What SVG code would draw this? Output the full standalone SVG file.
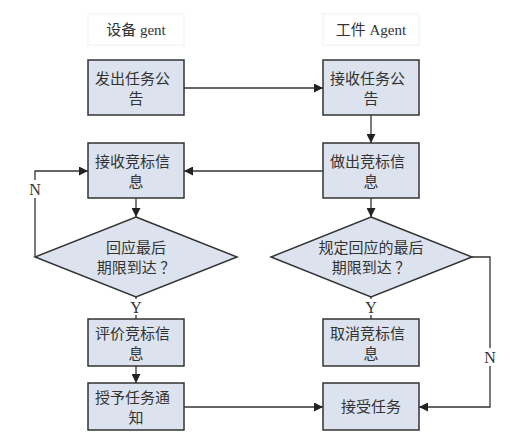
<svg xmlns="http://www.w3.org/2000/svg" width="524" height="437" viewBox="0 0 524 437">
<style>
.box{fill:#dce3ef;stroke:#333;stroke-width:1.5}
.hdr{fill:#fff;stroke:#f0f0f0;stroke-width:1}
.t{font-family:"Noto Sans CJK SC","Noto Sans CJK JP",sans-serif;font-size:15px;fill:#333}
.h{font-family:"Liberation Serif","Noto Sans CJK SC",serif;font-size:15px;fill:#333;text-anchor:middle}
.lbl{font-family:"Liberation Serif",serif;font-size:16px;fill:#333;text-anchor:middle}
.c{fill:none;stroke:#333;stroke-width:1.3}
</style>
<defs>
<marker id="ah" viewBox="0 0 10 10" refX="10" refY="5" markerWidth="9" markerHeight="9" markerUnits="userSpaceOnUse" orient="auto">
<path d="M0,0 L10,5 L0,10 z" fill="#222"/>
</marker>
</defs>
<rect width="524" height="437" fill="#fff"/>
<g id="connectors">
<path class="c" d="M184,88 H323" marker-end="url(#ah)"/>
<path class="c" d="M371,115 V143" marker-end="url(#ah)"/>
<path class="c" d="M323,171 H184" marker-end="url(#ah)"/>
<path class="c" d="M136,198 V217" marker-end="url(#ah)"/>
<path class="c" d="M371,198 V217" marker-end="url(#ah)"/>
<path class="c" d="M35,257 V171 H88" marker-end="url(#ah)"/>
<path class="c" d="M136,297 V319"/>
<path class="c" d="M371,297 V319"/>
<path class="c" d="M472,257 H490 V407 H419" marker-end="url(#ah)"/>
<path class="c" d="M136,366 V383" marker-end="url(#ah)"/>
<path class="c" d="M184,407 H323" marker-end="url(#ah)"/>
<rect x="28" y="180" width="14" height="18" fill="#fff"/>
<text class="lbl" x="35" y="195">N</text>
<rect x="483" y="348" width="14" height="18" fill="#fff"/>
<text class="lbl" x="490" y="363">N</text>
<rect x="129" y="299" width="14" height="16" fill="#fff"/>
<text class="lbl" x="136" y="313">Y</text>
<rect x="364" y="299" width="14" height="16" fill="#fff"/>
<text class="lbl" x="371" y="313">Y</text>
</g>
<g id="hdr1"><rect class="hdr" x="88" y="14" width="96" height="31"/><text class="h" x="136" y="35">设备 gent</text></g>
<g id="hdr2"><rect class="hdr" x="323" y="14" width="96" height="31"/><text class="h" x="371" y="35">工件 Agent</text></g>
<g id="n1"><rect class="box" x="88" y="60" width="96" height="55"/><text class="t" x="95" y="84">发出任务公</text><text class="t" x="136" y="104" text-anchor="middle">告</text></g>
<g id="n2"><rect class="box" x="323" y="60" width="96" height="55"/><text class="t" x="330" y="84">接收任务公</text><text class="t" x="371" y="104" text-anchor="middle">告</text></g>
<g id="n3"><rect class="box" x="88" y="143" width="96" height="55"/><text class="t" x="95" y="167">接收竞标信</text><text class="t" x="136" y="187" text-anchor="middle">息</text></g>
<g id="n4"><rect class="box" x="323" y="143" width="96" height="55"/><text class="t" x="330" y="167">做出竞标信</text><text class="t" x="371" y="187" text-anchor="middle">息</text></g>
<g id="d1"><path class="box" d="M136,217 L237,257 L136,297 L35,257 z"/><text class="t" x="136" y="253" text-anchor="middle">回应最后</text><text class="t" x="136" y="273" text-anchor="middle">期限到达 ？</text></g>
<g id="d2"><path class="box" d="M371,217 L472,257 L371,297 L271,257 z"/><text class="t" x="371" y="253" text-anchor="middle">规定回应的最后</text><text class="t" x="371" y="273" text-anchor="middle">期限到达 ？</text></g>
<g id="n5"><rect class="box" x="88" y="319" width="96" height="47"/><text class="t" x="95" y="339">评价竞标信</text><text class="t" x="136" y="359" text-anchor="middle">息</text></g>
<g id="n6"><rect class="box" x="323" y="319" width="96" height="47"/><text class="t" x="330" y="339">取消竞标信</text><text class="t" x="371" y="359" text-anchor="middle">息</text></g>
<g id="n7"><rect class="box" x="88" y="383" width="96" height="47"/><text class="t" x="95" y="403">授予任务通</text><text class="t" x="136" y="423" text-anchor="middle">知</text></g>
<g id="n8"><rect class="box" x="323" y="383" width="96" height="47"/><text class="t" x="371" y="412" text-anchor="middle">接受任务</text></g>
</svg>
